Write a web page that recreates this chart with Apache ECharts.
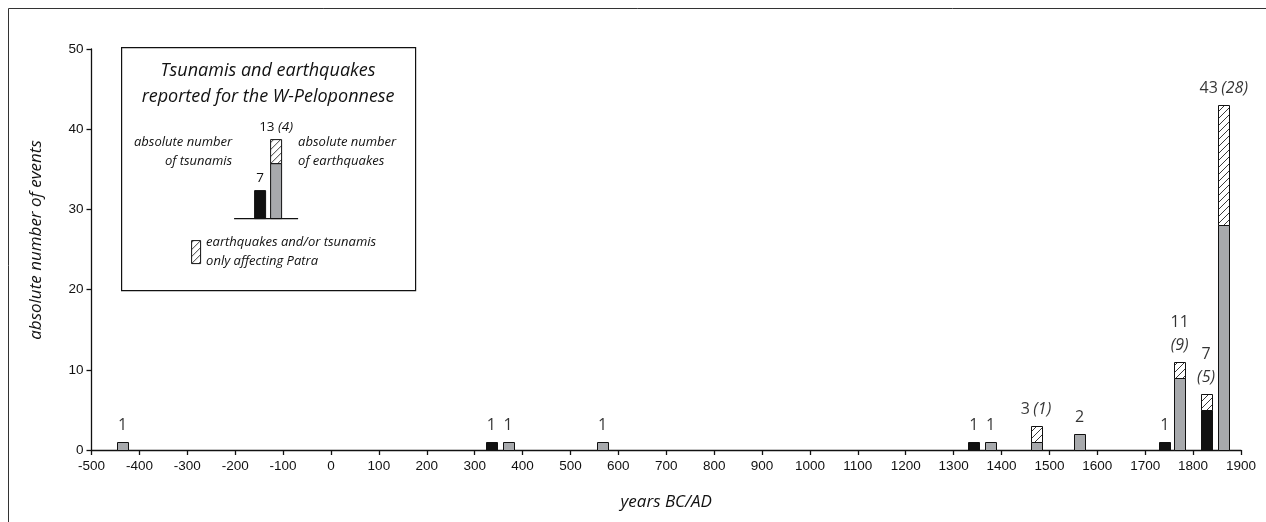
<!DOCTYPE html>
<html>
<head>
<meta charset="utf-8">
<script src="https://cdn.jsdelivr.net/npm/echarts@6/dist/echarts.min.js"></script>
<style>
  html, body { margin: 0; padding: 0; background: #fff; }
  #chart { width: 1266px; height: 522px; }
</style>
</head>
<body>
<div id="chart"></div>
<script>
// Years (BC negative) at which events are reported
const years = [-435, 335, 370, 567, 1342, 1377, 1472, 1563, 1741, 1772, 1827, 1864];
// Number of tsunamis (black), earthquakes (grey) and events only affecting Patra (hatched, on top)
const tsunamis    = [null, 1, null, null, 1, null, null, null, 1, null, 5, null];
const earthquakes = [1, null, 1, 1, null, 1, 1, 2, null, 9, null, 28];
const patraOnly   = [null, null, null, null, null, null, 2, null, null, 2, 2, 15];
// Numbers written above the columns: total and, in brackets, without Patra-only events
const totalText   = ['1', '1', '1', '1', '1', '1', '3', '2', '1', '11', '7', '43'];
const bracketText = ['', '', '', '', '', '', '(1)', '', '', '(9)', '(5)', '(28)'];
const twoLine     = [false, false, false, false, false, false, false, false, false, true, true, false];

const xMin = -500, xMax = 1900, xStep = 100;
const yMin = 0, yMax = 50, yStep = 10;

const SANS = '"Liberation Sans", Arial, sans-serif';
const HUM = '"Open Sans", "Noto Sans", sans-serif';
const INK = '#111111';
const GREY = '#a7a9ac';
const COL_W = 11;

// diagonal hatch pattern
function hatchCanvas() {
  const s = 7;
  const c = document.createElement('canvas');
  c.width = s; c.height = s;
  const g = c.getContext('2d');
  g.fillStyle = '#ffffff';
  g.fillRect(0, 0, s, s);
  g.strokeStyle = '#222';
  g.lineWidth = 0.9;
  g.beginPath();
  g.moveTo(-1, s + 1); g.lineTo(s + 1, -1);
  g.moveTo(-1, 1); g.lineTo(1, -1);
  g.moveTo(s - 1, s + 1); g.lineTo(s + 1, s - 1);
  g.stroke();
  return c;
}
const hatch = { image: hatchCanvas(), repeat: 'repeat' };

const columns = years.map((y, i) => [y, tsunamis[i] || 0, earthquakes[i] || 0, patraOnly[i] || 0]);
const totals = columns.map(r => r[1] + r[2] + r[3]);

// stacked column: black/grey first, hatched part on top
function renderColumn(params, api) {
  const x = api.value(0);
  const parts = [
    [api.value(1), { fill: INK, stroke: INK, lineWidth: 1 }],
    [api.value(2), { fill: GREY, stroke: INK, lineWidth: 1 }],
    [api.value(3), { fill: hatch, stroke: INK, lineWidth: 1 }]
  ];
  const children = [];
  let base = 0;
  parts.forEach(([v, style]) => {
    if (!v) return;
    const p0 = api.coord([x, base]);
    const p1 = api.coord([x, base + v]);
    const left = Math.round(p0[0] - COL_W / 2) + 0.5;
    children.push({
      type: 'rect',
      shape: { x: left, y: Math.round(p1[1]) + 0.5, width: COL_W, height: Math.round(p0[1]) - Math.round(p1[1]) },
      style: style
    });
    base += v;
  });
  return { type: 'group', children: children };
}

const chart = echarts.init(document.getElementById('chart'), null, { renderer: 'canvas' });

const legendX = 121, legendY = 47;
chart.setOption({
  animation: false,
  grid: { left: 91.5, right: 25, top: 49, bottom: 72, containLabel: false },
  xAxis: {
    type: 'value',
    min: xMin, max: xMax, interval: xStep,
    name: 'years BC/AD',
    nameLocation: 'middle',
    nameGap: 44,
    nameTextStyle: { fontFamily: HUM, fontStyle: 'italic', fontSize: 17, color: INK },
    axisLine: { onZero: false, lineStyle: { color: INK, width: 1.3 } },
    axisTick: { show: true, length: 5, lineStyle: { color: INK, width: 1.3 } },
    axisLabel: { fontFamily: SANS, fontSize: 13.5, color: INK, margin: 9, showMinLabel: true, showMaxLabel: true,
      formatter: v => String(v) },
    splitLine: { show: false }
  },
  yAxis: {
    type: 'value',
    min: yMin, max: yMax, interval: yStep,
    axisLine: { show: true, onZero: false, lineStyle: { color: INK, width: 1.3 } },
    axisTick: { show: true, length: 5, lineStyle: { color: INK, width: 1.3 } },
    axisLabel: { fontFamily: SANS, fontSize: 13.5, color: INK, margin: 8, formatter: v => String(v) },
    splitLine: { show: false }
  },
  series: [
    {
      type: 'custom',
      name: 'events',
      silent: true,
      renderItem: renderColumn,
      encode: { x: 0, y: 3 },
      data: columns,
      z: 2
    },
    {
      type: 'scatter',
      name: 'labels',
      silent: true,
      symbolSize: 0,
      data: years.map((y, i) => [y, totals[i], i]),
      z: 3,
      label: {
        show: true,
        position: 'top',
        distance: 5,
        align: 'center',
        formatter: p => {
          const i = p.value[2];
          if (!bracketText[i]) return '{n|' + totalText[i] + '}';
          return '{n|' + totalText[i] + '}' + (twoLine[i] ? '\n' : ' ') + '{i|' + bracketText[i] + '}';
        },
        rich: {
          n: { fontFamily: HUM, fontSize: 16, color: '#000', lineHeight: 23, align: 'center' },
          i: { fontFamily: HUM, fontSize: 16, fontStyle: 'italic', color: '#000', lineHeight: 23, align: 'center' }
        }
      }
    }
  ],
  graphic: [
    // outer frame
    {
      type: 'rect', silent: true, z: 0,
      shape: { x: 8.5, y: 8.5, width: 1400, height: 700 },
      style: { fill: 'none', stroke: '#333', lineWidth: 1 }
    },
    // y-axis title
    {
      type: 'text', silent: true, z: 5,
      x: 36, y: 240, rotation: Math.PI / 2,
      style: { text: 'absolute number of events', fontFamily: HUM, fontStyle: 'italic', fontSize: 17,
        fill: INK, align: 'center', verticalAlign: 'middle' }
    },
    // explanation box
    {
      type: 'group', silent: true, left: legendX, top: legendY, z: 10,
      children: [
        { type: 'rect', shape: { x: 0.5, y: 0.5, width: 294, height: 243 },
          style: { fill: '#fff', stroke: INK, lineWidth: 1.2 } },
        { type: 'text', style: { x: 147, y: 24, text: 'Tsunamis and earthquakes', fontFamily: HUM, fontStyle: 'italic',
          fontSize: 18, fill: INK, align: 'center', verticalAlign: 'middle' } },
        { type: 'text', style: { x: 147, y: 50, text: 'reported for the W-Peloponnese', fontFamily: HUM, fontStyle: 'italic',
          fontSize: 18, fill: INK, align: 'center', verticalAlign: 'middle' } },
        { type: 'text', style: { x: 155, y: 80, text: '{n|13} {i|(4)}', fill: INK, align: 'center', verticalAlign: 'middle',
          rich: { n: { fontFamily: HUM, fontSize: 13.5 }, i: { fontFamily: HUM, fontSize: 13.5, fontStyle: 'italic' } } } },
        // grey part + hatched part of the sample column
        { type: 'rect', shape: { x: 149.5, y: 116.5, width: 11, height: 55 },
          style: { fill: GREY, stroke: INK, lineWidth: 1 } },
        { type: 'rect', shape: { x: 149.5, y: 92.5, width: 11, height: 24 },
          style: { fill: hatch, stroke: INK, lineWidth: 1 } },
        { type: 'rect', shape: { x: 133.5, y: 143.5, width: 11, height: 28 },
          style: { fill: INK, stroke: INK, lineWidth: 1 } },
        { type: 'text', style: { x: 139, y: 131, text: '7', fontFamily: HUM, fontSize: 13.5, fill: INK,
          align: 'center', verticalAlign: 'middle' } },
        { type: 'line', shape: { x1: 113, y1: 171.5, x2: 177, y2: 171.5 }, style: { stroke: INK, lineWidth: 1.2 } },
        { type: 'text', style: { x: 111, y: 105, text: 'absolute number\nof tsunamis', fontFamily: HUM, fontStyle: 'italic',
          fontSize: 13, lineHeight: 19, fill: INK, align: 'right', verticalAlign: 'middle' } },
        { type: 'text', style: { x: 177, y: 105, text: 'absolute number\nof earthquakes', fontFamily: HUM, fontStyle: 'italic',
          fontSize: 13, lineHeight: 19, fill: INK, align: 'left', verticalAlign: 'middle' } },
        { type: 'rect', shape: { x: 70.5, y: 193.5, width: 9, height: 23 },
          style: { fill: hatch, stroke: INK, lineWidth: 1 } },
        { type: 'text', style: { x: 85, y: 205, text: 'earthquakes and/or tsunamis\nonly affecting Patra', fontFamily: HUM,
          fontStyle: 'italic', fontSize: 13, lineHeight: 19, fill: INK, align: 'left', verticalAlign: 'middle' } }
      ]
    }
  ]
});
</script>
</body>
</html>
